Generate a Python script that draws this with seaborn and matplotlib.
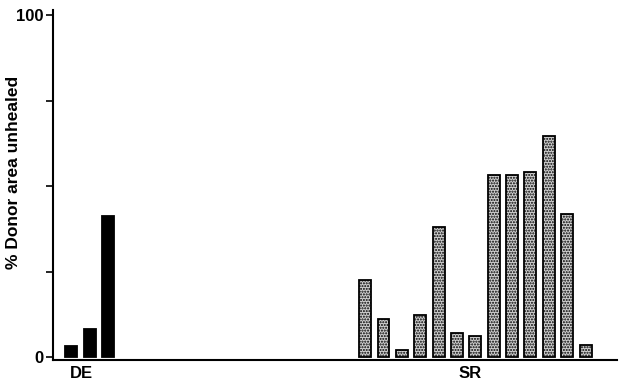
import matplotlib
matplotlib.use("Agg")
import matplotlib.pyplot as plt
import seaborn as sns
import pandas as pd
import numpy as np

groups = ["DE", "SR"]
de_values = [3.3, 8.4, 41.4]
sr_values = [22.6, 11.1, 2.1, 12.3, 38.1, 7.1, 6.2, 53.2, 53.2, 54.3, 64.8, 42.0, 3.7]
y_ticks = [0, 25, 50, 75, 100]
y_ticklabels = ["0", "", "", "", "100"]

sns.set_theme(style="white")
plt.rcParams["font.family"] = ["Liberation Sans", "DejaVu Sans"]
plt.rcParams["hatch.color"] = "#555555"
plt.rcParams["text.color"] = "black"
plt.rcParams["axes.labelcolor"] = "black"

de_start, sr_start = 1, 17
rows = []
for i, v in enumerate(de_values):
    rows.append({"pos": de_start + i, "value": v, "group": "DE"})
for i, v in enumerate(sr_values):
    rows.append({"pos": sr_start + i, "value": v, "group": "SR"})
df = pd.DataFrame(rows)

fig = plt.figure(figsize=(6.23, 3.91), dpi=100)
ax = fig.add_axes([0.085, 0.079, 0.905, 0.895])

sns.barplot(data=df, x="pos", y="value", hue="group", native_scale=True,
            palette={"DE": "black", "SR": "#cfcfcf"}, width=0.65, dodge=False,
            legend=False, ax=ax, edgecolor="black", linewidth=1.3)

for p in ax.patches:
    fc = p.get_facecolor()
    if fc[0] > 0.5:
        p.set_hatch("......")
        p.set_linewidth(1.3)

ax.set_xlim(0, 30.7)
ax.set_ylim(-0.8, 101.5)
ax.set_yticks(y_ticks)
ax.set_yticklabels(y_ticklabels, fontsize=12, fontweight="bold")
ax.set_xticks([1.55, 22.7])
ax.set_xticklabels(groups, fontsize=12, fontweight="bold")
ax.tick_params(axis="y", direction="out", length=5, width=1.2, left=True, pad=2, colors="black")
ax.tick_params(axis="x", length=0, pad=4, colors="black")
ax.set_xlabel("")
ax.set_ylabel("% Donor area unhealed", fontsize=12.5, fontweight="bold",
              color="black", labelpad=4)
ax.yaxis.set_label_coords(-0.057, 0.537)
for s in ["top", "right"]:
    ax.spines[s].set_visible(False)
for s in ["left", "bottom"]:
    ax.spines[s].set_color("black")
    ax.spines[s].set_linewidth(1.5)

fig.savefig("out.png", dpi=100)
